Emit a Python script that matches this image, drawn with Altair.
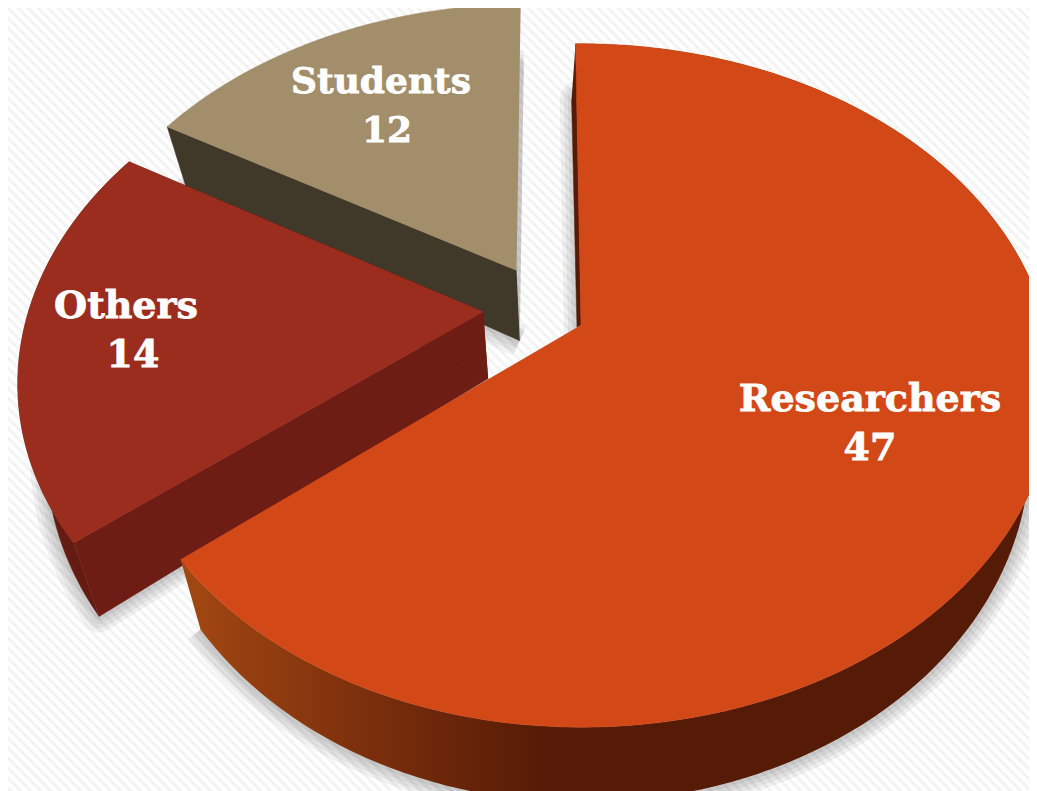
import math
import altair as alt
import pandas as pd

labels = ["Researchers", "Others", "Students"]
values = [47, 14, 12]
top_colors = ["#D34817", "#9B2D1F", "#A28E6A"]
wall_colors = ["#551B06", "#6E1D14", "#403828"]
rim_colors = ["#551B06", "#641C12", "#403828"]
explode_u = [0.0, -0.215, -0.145]
explode_v = [0.0, 0.04, 0.17]
side_drop = [63, 67, 72]
label_x = [870, 126, 381]
label_y = [400, 307, 82]
number_x = [870, 133, 387]
number_y = [449, 356, 131]
label_size = [38, 38, 36]

CX, CY, R_RIGHT, R_LEFT, RS, K = 581, 325, 465, 458, 331, 0.177
SX, SY = 0.95, 1.03
FIRST_ANGLE = math.radians(-0.8)


def project(u, v):
    w = 1 + K * v
    r = R_RIGHT if u >= 0 else R_LEFT
    return CX + r * u / w, CY - RS * v / w


def lower(p, drop):
    return CX + SX * (p[0] - CX), CY + drop + SY * (p[1] - CY)


def frame(points):
    return pd.DataFrame({"x": [p[0] for p in points], "y": [p[1] for p in points], "i": range(len(points))})


X = alt.X("x:Q", scale=alt.Scale(domain=[8, 1029], nice=False, zero=False), axis=None)
Y = alt.Y("y:Q", scale=alt.Scale(domain=[791, 8], nice=False, zero=False), axis=None)


def poly(points, fill, **kw):
    return alt.Chart(frame(points)).mark_line(fill=fill, stroke=fill, strokeWidth=kw.pop("sw", 0.5), clip=True, **kw).encode(
        x=X, y=Y, order=alt.Order("i:Q"))


# striped backdrop
stripes = pd.DataFrame({"x": [s for s in range(-800, 1060, 10)]})
stripes["y"] = 0
stripes["x2"] = stripes["x"] + 800
stripes["y2"] = 800
bg = alt.Chart(stripes).mark_rule(color="#f3f3f3", strokeWidth=3, clip=True).encode(
    x=X, y=Y, x2="x2:Q", y2="y2:Q")

total = sum(values)
shadow_layers, body_layers = [], []
start = FIRST_ANGLE
parts = []
for n, val in enumerate(values):
    end = start + val / total * 2 * math.pi
    steps = max(8, int(val * 3))
    angles = [start + (end - start) * j / steps for j in range(steps + 1)]
    ou, ov = explode_u[n], explode_v[n]
    rim = [project(ou + math.sin(a), ov + math.cos(a)) for a in angles]
    apex = project(ou, ov)
    parts.append((rim, apex))
    start = end

order = [2, 1, 0]
for n in order:
    rim, apex = parts[n]
    low_rim = [lower(p, side_drop[n]) for p in rim]
    low_apex = lower(apex, side_drop[n])
    outline = [apex] + rim
    silhouette = [low_apex] + low_rim
    for sw in (8, 16, 24, 32):
        shadow_layers.append(poly(silhouette, "#000000", sw=sw, opacity=0.05, strokeJoin="round"))

    if n == 0:
        wall_a = [rim[0], apex, (apex[0] - 4, apex[1] + 2), (rim[0][0] - 4, rim[0][1] + 56)]
        body_layers.append(poly(wall_a, wall_colors[n]))
        rim_fill = alt.Gradient(
            gradient="linear", x1=0, x2=1, y1=0, y2=0,
            stops=[alt.GradientStop(offset=0, color="#A34812"),
                   alt.GradientStop(offset=0.22, color="#7A2E0C"),
                   alt.GradientStop(offset=0.42, color="#551B06"),
                   alt.GradientStop(offset=1, color="#551B06")])
        strip = rim + low_rim[::-1]
        body_layers.append(alt.Chart(frame(strip)).mark_line(fill=rim_fill, strokeWidth=0, clip=True).encode(
            x=X, y=Y, order=alt.Order("i:Q")))
    elif n == 1:
        wall_a = [apex, rim[0], low_rim[0], low_apex]
        wall_b = [apex, rim[-1], low_rim[-1], low_apex]
        body_layers.append(poly(wall_a, wall_colors[n]))
        body_layers.append(poly(wall_b, wall_colors[n]))
        body_layers.append(poly(rim + low_rim[::-1], rim_colors[n]))
    else:
        body_layers.append(poly([apex, rim[0], low_rim[0], low_apex], wall_colors[n]))
    body_layers.append(poly(outline, top_colors[n]))

text_rows = []
for n in range(len(labels)):
    text_rows.append({"x": label_x[n], "y": label_y[n], "t": labels[n], "s": label_size[n]})
    text_rows.append({"x": number_x[n], "y": number_y[n], "t": str(values[n]), "s": label_size[n]})
text = alt.Chart(pd.DataFrame(text_rows)).mark_text(
    font="DejaVu Serif", fontWeight="bold", color="white", stroke="white", strokeWidth=0.8,
    baseline="middle", align="center"
).encode(x=X, y=Y, text="t:N", size=alt.Size("s:Q", scale=None, legend=None))

chart = alt.layer(bg, *shadow_layers, *body_layers, text).properties(
    width=1021, height=783, padding=0, background="white"
).configure_view(stroke=None)

chart.save("out.html", embed_options={"renderer": "svg", "actions": False})
